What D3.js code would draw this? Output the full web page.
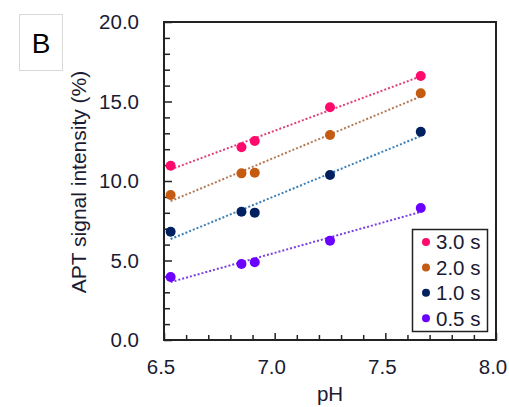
<!DOCTYPE html>
<html>
<head>
<meta charset="utf-8">
<script src="https://cdn.jsdelivr.net/npm/d3@7"></script>
<style>
  body { margin: 0; background: #fff; }
  svg { display: block; font-family: "Liberation Sans", Arial, sans-serif; }
</style>
</head>
<body>
<script>
// pH of the samples
const phValues = [6.53, 6.85, 6.91, 7.25, 7.66];

// APT signal intensity (%) per saturation time
const series = ['3.0 s', '2.0 s', '1.0 s', '0.5 s'];
const sat30 = [10.96, 12.12, 12.52, 14.64, 16.60];
const sat20 = [9.12, 10.48, 10.52, 12.89, 15.52];
const sat10 = [6.81, 8.07, 8.01, 10.38, 13.10];
const sat05 = [3.96, 4.78, 4.89, 6.25, 8.30];

const xTicks = [6.5, 7.0, 7.5, 8.0];
const yTicks = [0, 5, 10, 15, 20];

const pointColors = ['#ff0a6c', '#c55a11', '#002060', '#6a00ff'];
const lineColors = ['#e0407a', '#b47a55', '#3b7fb6', '#7a3fe4'];

const width = 509, height = 407;
const margin = {top: 22, right: 13, bottom: 67, left: 164};
const textColor = '#1b1b33';

const svg = d3.select('body').append('svg')
    .attr('width', width)
    .attr('height', height);

const x = d3.scaleLinear().domain([6.5, 8.0]).range([margin.left, width - margin.right]);
const y = d3.scaleLinear().domain([0, 20]).range([height - margin.bottom, margin.top]);

// panel letter
svg.append('rect')
    .attr('x', 19.5).attr('y', 14.5)
    .attr('width', 43).attr('height', 56)
    .attr('fill', 'none')
    .attr('stroke', '#d8d8d8');
svg.append('text')
    .attr('x', 41).attr('y', 52.5)
    .attr('text-anchor', 'middle')
    .style('font-size', '28px')
    .attr('fill', '#000')
    .text('B');

// frame
svg.append('rect')
    .attr('x', x(6.5)).attr('y', y(20))
    .attr('width', x(8.0) - x(6.5)).attr('height', y(0) - y(20))
    .attr('fill', 'none')
    .attr('stroke', '#222')
    .attr('stroke-width', 2);

// inner ticks
const xAxis = d3.axisBottom(x)
    .tickValues(d3.range(6.5, 8.001, 0.1))
    .tickSize(-5)
    .tickFormat('');
const gx = svg.append('g')
    .attr('transform', `translate(0,${y(0)})`)
    .call(xAxis);
gx.selectAll('.tick line')
    .attr('y2', d => Math.abs(d * 2 - Math.round(d * 2)) < 1e-6 ? -7 : -5);

const yAxis = d3.axisLeft(y)
    .tickValues(d3.range(0, 20.001, 1))
    .tickSize(-5)
    .tickFormat('');
const gy = svg.append('g')
    .attr('transform', `translate(${x(6.5)},0)`)
    .call(yAxis);
gy.selectAll('.tick line')
    .attr('x2', d => d % 5 === 0 ? 8 : 6);

[gx, gy].forEach(g => {
    g.select('.domain').remove();
    g.selectAll('.tick line').attr('stroke', '#222').attr('stroke-width', 1.5);
});

// tick labels
svg.append('g').selectAll('text')
    .data(yTicks)
    .join('text')
    .attr('x', x(6.5) - 25)
    .attr('y', d => y(d))
    .attr('dy', '0.35em')
    .attr('text-anchor', 'end')
    .style('font-size', '20.5px')
    .attr('fill', textColor)
    .text(d => d3.format('.1f')(d));

svg.append('g').selectAll('text')
    .data(xTicks)
    .join('text')
    .attr('x', d => x(d) - 3)
    .attr('y', 374)
    .attr('text-anchor', 'middle')
    .style('font-size', '20.5px')
    .attr('fill', textColor)
    .text(d => d3.format('.1f')(d));

// axis titles
svg.append('text')
    .attr('x', (x(6.5) + x(8.0)) / 2)
    .attr('y', 401)
    .attr('text-anchor', 'middle')
    .style('font-size', '20.5px')
    .attr('fill', textColor)
    .text('pH');

svg.append('text')
    .attr('transform', `translate(86,182) rotate(-90)`)
    .attr('text-anchor', 'middle')
    .style('font-size', '21px')
    .attr('fill', textColor)
    .text('APT signal intensity (%)');

// data
const allSeries = [sat30, sat20, sat10, sat05].map((vals, i) => ({
    name: series[i],
    points: vals.map((v, j) => ({ph: phValues[j], v: v})),
    color: pointColors[i],
    lineColor: lineColors[i]
}));

function fit(points) {
    const mx = d3.mean(points, p => p.ph);
    const my = d3.mean(points, p => p.v);
    const sxy = d3.sum(points, p => (p.ph - mx) * (p.v - my));
    const sxx = d3.sum(points, p => (p.ph - mx) * (p.ph - mx));
    const b = sxy / sxx;
    return ph => my + b * (ph - mx);
}

const trend = svg.append('g');
allSeries.forEach(s => {
    const f = fit(s.points);
    const [x0, x1] = d3.extent(s.points, p => p.ph);
    trend.append('line')
        .attr('x1', x(x0)).attr('y1', y(f(x0)))
        .attr('x2', x(x1)).attr('y2', y(f(x1)))
        .attr('stroke', s.lineColor)
        .attr('stroke-width', 2)
        .attr('stroke-dasharray', '2,2');
});

const dots = svg.append('g');
allSeries.forEach(s => {
    dots.selectAll(null)
        .data(s.points)
        .join('circle')
        .attr('cx', d => x(d.ph))
        .attr('cy', d => y(d.v))
        .attr('r', 5)
        .attr('fill', s.color);
});

// legend
const legend = svg.append('g');
legend.append('rect')
    .attr('x', 412.5).attr('y', 229.5)
    .attr('width', 75).attr('height', 102)
    .attr('fill', '#fff')
    .attr('stroke', '#222')
    .attr('stroke-width', 1.5);
allSeries.forEach((s, i) => {
    const ly = 242 + i * 25.4;
    legend.append('circle')
        .attr('cx', 426).attr('cy', ly)
        .attr('r', 4)
        .attr('fill', s.color);
    legend.append('text')
        .attr('x', 436).attr('y', ly)
        .attr('dy', '0.36em')
        .style('font-size', '20.5px')
        .attr('fill', textColor)
        .text(s.name);
});
</script>
</body>
</html>
